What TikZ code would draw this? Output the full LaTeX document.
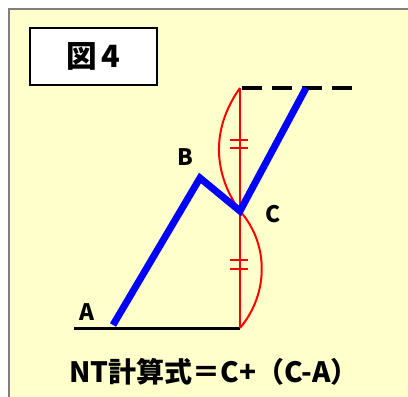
\documentclass[tikz,border=0pt]{standalone}
\usepackage{fontspec}
\usepackage{xcolor}
\usepackage{tikz}
\usetikzlibrary{positioning}
\newfontfamily\jpfont{Noto Sans CJK JP}
\definecolor{zupaper}{HTML}{FFFFCC}
\definecolor{zuframe}{HTML}{7F7F7F}
\definecolor{zublue}{HTML}{0000FF}
\definecolor{zured}{HTML}{FF0000}

\begin{document}
\begin{tikzpicture}[
  x=0.75pt,y=-0.75pt,
  font=\jpfont,
  titlebox/.style={draw=black,fill=white,line width=1pt,minimum width=95.25pt,minimum height=42.75pt,inner sep=0pt,font=\jpfont\bfseries\fontsize{23}{26}\selectfont},
  ptlabel/.style={inner sep=0pt,font=\jpfont\bfseries\fontsize{17}{20}\selectfont},
  zigzag/.style={zublue,line width=5.25pt,line join=miter},
  redline/.style={zured,line width=1.5pt},
  tickmark/.style={zured,line width=1.5pt}
]
\useasboundingbox (0,0) rectangle (408,397);
% background and frame
\fill[zupaper] (9,9) rectangle (412,401);
\draw[zuframe,line width=1.2pt] (9,401) -- (9,9) -- (412,9);

\node[titlebox] (title) at (93.5,56.5) {図\hspace{3pt}4};

% points
\coordinate (A) at (113,325);
\coordinate (B) at (200,178);
\coordinate (C) at (240,211);
\coordinate (D) at (306,88);
\coordinate (E) at (240,88);
\coordinate (F) at (240,328);
\coordinate (base) at (74,328);
\coordinate (dashend) at (355,88);

% base and dashed level
\draw[black,line width=2.25pt] (base) -- (F);
\draw[black,line width=3pt,dash pattern=on 15pt off 7.5pt] ([xshift=1.5pt]E) -- (dashend);

% red measures
\draw[redline] (E) -- (F);
\draw[redline] (E) .. controls (210,130) and (214,175) .. (C);
\draw[redline] (C) .. controls (270,245) and (268,295) .. (F);
\foreach \y in {140,148,260,269}
  \draw[tickmark] (230,\y) -- (248,\y);

% price path
\draw[zigzag] (A) -- (B) -- (C) -- (D);

% labels
\node[ptlabel] (labA) at (87,312) {A};
\node[ptlabel] (labB) at (185,157) {B};
\node[ptlabel] (labC) at (273,214) {C};
\node[inner sep=0pt,font=\jpfont\bfseries\fontsize{21}{25}\selectfont] (formula) at (214,372) {NT計算式＝C+（C-A）};
\end{tikzpicture}
\end{document}
